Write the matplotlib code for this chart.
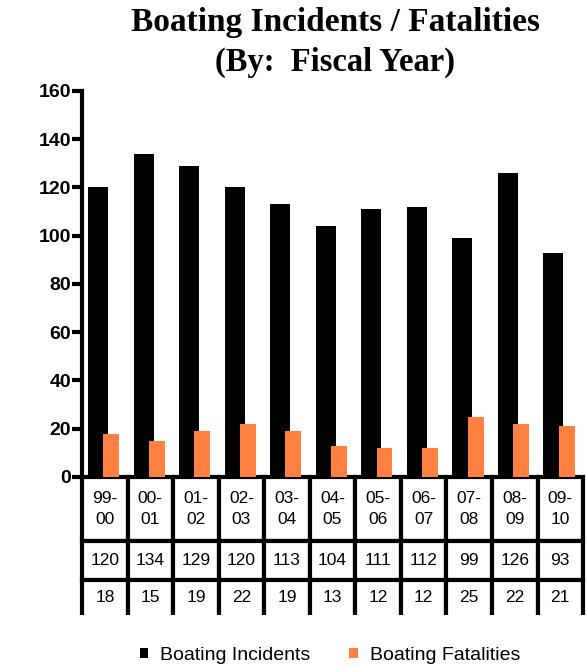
import matplotlib.pyplot as plt

# data
years = ["99-\n00", "00-\n01", "01-\n02", "02-\n03", "03-\n04", "04-\n05",
         "05-\n06", "06-\n07", "07-\n08", "08-\n09", "09-\n10"]
incidents = [120, 134, 129, 120, 113, 104, 111, 112, 99, 126, 93]
fatalities = [18, 15, 19, 22, 19, 13, 12, 12, 25, 22, 21]

ORANGE = "#FF8040"


def main():
    fig = plt.figure(figsize=(5.86, 6.68), dpi=100)
    ax = fig.add_axes([0.140, 0.286, 0.855, 0.578])

    x = list(range(len(years)))
    ax.bar([i - 0.15 for i in x], incidents, width=0.44, color="black",
           label="Boating Incidents", zorder=2)
    ax.bar([i + 0.14 for i in x], fatalities, width=0.35, color=ORANGE,
           label="Boating Fatalities", zorder=3)

    ax.set_xlim(-0.5, len(years) - 0.5)
    ax.set_ylim(0, 160)
    ax.set_yticks(range(0, 161, 20))
    ax.set_xticks([])
    for s in ["top", "right", "bottom"]:
        ax.spines[s].set_visible(False)
    ax.spines["left"].set_linewidth(3)
    ax.tick_params(axis="y", direction="out", length=7, width=3, pad=1)
    for lbl in ax.get_yticklabels():
        lbl.set_fontfamily("Liberation Sans")
        lbl.set_fontweight("bold")
        lbl.set_fontsize(14)

    # data table under the plot
    cell_text = [years,
                 [str(v) for v in incidents],
                 [str(v) for v in fatalities]]
    tbl = ax.table(cellText=cell_text, cellLoc="center", loc="bottom",
                   bbox=[0, -0.357, 1, 0.357])
    tbl.auto_set_font_size(False)
    tbl.set_fontsize(12.5)
    row_h = [64, 39, 35]
    for (r, c), cell in tbl.get_celld().items():
        cell.set_height(row_h[r])
        cell.set_linewidth(3)
        cell.set_edgecolor("black")
        cell.get_text().set_fontfamily("Liberation Sans")
        cell.get_text().set_linespacing(1.45)
        if r == 2:
            cell.visible_edges = "LRT"

    fig.text(0.572, 0.967, "Boating Incidents / Fatalities", ha="center",
             va="center", family="Liberation Serif", weight="bold", fontsize=24)
    fig.text(0.572, 0.907, "(By:  Fiscal Year)", ha="center",
             va="center", family="Liberation Serif", weight="bold", fontsize=23.5)

    fig.legend(loc="center", bbox_to_anchor=(0.563, 0.019), ncol=2,
               frameon=False, prop={"family": "Liberation Sans", "size": 14},
               handlelength=0.45, handleheight=0.45, columnspacing=2.0,
               handletextpad=0.6)

    fig.savefig("out.png", dpi=100)


if __name__ == "__main__":
    main()
